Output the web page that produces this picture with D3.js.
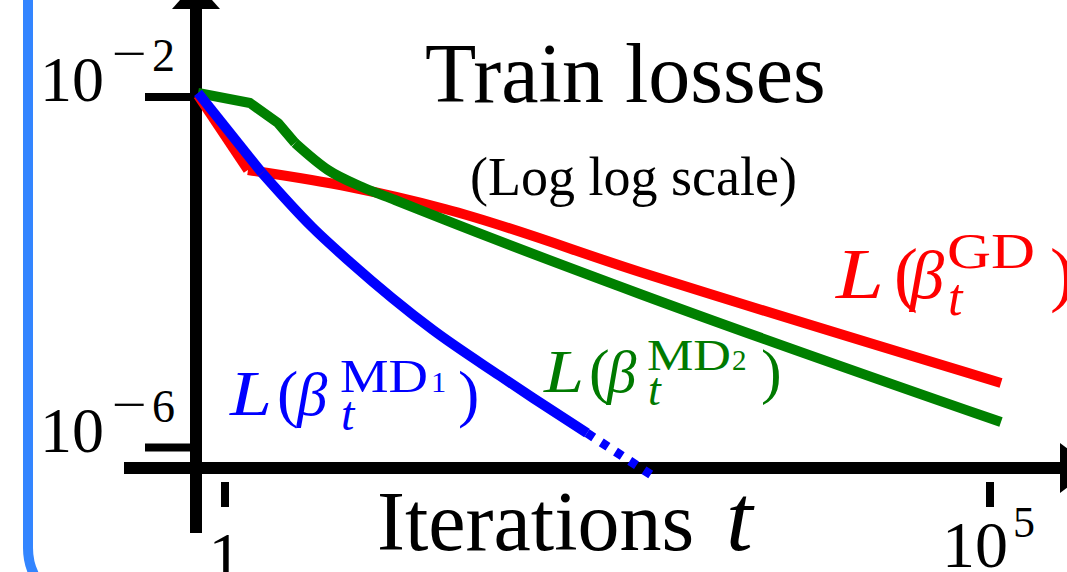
<!DOCTYPE html>
<html><head><meta charset="utf-8">
<script src="https://cdn.jsdelivr.net/npm/d3@7"></script>
<style>body{margin:0;background:#fff;overflow:hidden}svg{display:block}</style>
</head><body>
<svg id="c" width="1067" height="572"></svg>
<script>
// ---- data ----
const tGD    = [0.666, 1.413, 6.56, 27.4, 516, 118000];
const lossGD = [1.05e-2, 1.47e-3, 9.4e-4, 5.27e-4, 1.007e-4, 5.45e-6];

const tMD2    = [0.666, 1.457, 2.221, 2.868, 4.712, 7.86, 12.92, 27.41, 515.8, 118000];
const lossMD2 = [1.111e-2, 8.54e-3, 5.05e-3, 2.99e-3, 1.47e-3, 9.4e-4, 6.68e-4, 3.95e-4, 5.65e-5, 1.95e-6];

const tMD1    = [0.666, 1.745, 3.704, 6.561, 22.88, 62.72, 103.1, 232.3];
const lossMD1 = [1.111e-2, 1.36e-3, 3.28e-4, 1.31e-4, 2.19e-5, 6.55e-6, 3.67e-6, 1.46e-6];
const tMD1dot    = [232.3, 627.3];
const lossMD1dot = [1.46e-6, 4.73e-7];

const xTicks = [1, 1e5];
const xTickBase = ['1', '10'];
const xTickExp = ['', '5'];
const yTicks = [1e-2, 1e-6];
const yTickExp = ['\u22122', '\u22126'];

const title = 'Train losses';
const subtitle = '(Log log scale)';
const xTitle = 'Iterations';

// ---- drawing ----
const svg = d3.select('#c');
const serif = "'Liberation Serif', 'DejaVu Serif', serif";
const x = d3.scaleLog().domain([1, 1e5]).range([225, 990]);
const y = d3.scaleLog().domain([1e-6, 1e-2]).range([447.5, 97]);

// blue rounded frame
svg.append('rect').attr('x', 28).attr('y', -100).attr('width', 1300).attr('height', 708)
  .attr('rx', 60).attr('fill', 'none').attr('stroke', '#3385ff').attr('stroke-width', 10);

// axes
const ax = svg.append('g');
ax.append('line').attr('x1', 196).attr('x2', 196).attr('y1', 4).attr('y2', 533)
  .attr('stroke', '#000').attr('stroke-width', 12);
ax.append('path').attr('d', 'M172,9 L220,9 L196,-18 Z').attr('fill', '#000');
ax.append('line').attr('x1', 124).attr('x2', 1064).attr('y1', 468).attr('y2', 468)
  .attr('stroke', '#000').attr('stroke-width', 12);
ax.append('path').attr('d', 'M1060,443 L1060,493 L1094,468 Z').attr('fill', '#000');

// y ticks
yTicks.forEach((v, i) => {
  const yy = y(v);
  ax.append('line').attr('x1', 145).attr('x2', 196).attr('y1', yy).attr('y2', yy)
    .attr('stroke', '#000').attr('stroke-width', 8);
  ax.append('text').attr('x', 104).attr('y', yy + 4).attr('text-anchor', 'end')
    .attr('font-family', serif).attr('font-size', 64).text('10');
  const e = yTickExp[i];
  ax.append('text').attr('x', 112).attr('y', yy - 28).attr('font-family', serif)
    .attr('font-size', 46).attr('textLength', 35).attr('lengthAdjust', 'spacingAndGlyphs').text(e[0]);
  ax.append('text').attr('x', 152).attr('y', yy - 26).attr('font-family', serif)
    .attr('font-size', 46).text(e.slice(1));
});

// x ticks
xTicks.forEach((v, i) => {
  const xx = x(v);
  ax.append('line').attr('x1', xx).attr('x2', xx).attr('y1', 482).attr('y2', 507)
    .attr('stroke', '#000').attr('stroke-width', 8);
  if (xTickExp[i] === '') {
    ax.append('text').attr('x', xx).attr('y', 578).attr('text-anchor', 'middle')
      .attr('font-family', serif).attr('font-size', 66).text(xTickBase[i]);
  } else {
    ax.append('text').attr('x', xx - 48).attr('y', 567)
      .attr('font-family', serif).attr('font-size', 66).text(xTickBase[i]);
    ax.append('text').attr('x', xx + 23).attr('y', 537)
      .attr('font-family', serif).attr('font-size', 44).text(xTickExp[i]);
  }
});

// titles
svg.append('text').attr('x', 425).attr('y', 102).attr('font-family', serif)
  .attr('font-size', 84).text(title);
svg.append('text').attr('x', 470).attr('y', 195).attr('font-family', serif)
  .attr('font-size', 54).text(subtitle);
svg.append('text').attr('x', 377).attr('y', 550).attr('font-family', serif)
  .attr('font-size', 84).text(xTitle);
svg.append('text').attr('x', 726).attr('y', 550).attr('font-family', serif)
  .attr('font-style', 'italic').attr('font-size', 96).text('t');

// lines: straight segments for the first k points, smooth afterwards
const lineLin = d3.line().x(d => x(d[0])).y(d => y(d[1]));
const lineSm = d3.line().x(d => x(d[0])).y(d => y(d[1])).curve(d3.curveMonotoneX);
function drawLine(ts, ls, color, k, dash) {
  const pts = d3.zip(ts, ls);
  const parts = dash ? [[pts, lineLin]] :
    [[pts.slice(0, k + 1), lineLin], [pts.slice(k), lineSm]];
  parts.forEach(([d, gen]) => {
    if (d.length < 2) return;
    const p = svg.append('path').datum(d).attr('d', gen)
      .attr('fill', 'none').attr('stroke', color).attr('stroke-width', 10)
      .attr('stroke-linejoin', 'round');
    if (dash) p.attr('stroke-dasharray', dash).attr('stroke-width', 9);
  });
}
drawLine(tGD, lossGD, '#ff0000', 1);
drawLine(tMD2, lossMD2, '#008000', 3);
drawLine(tMD1, lossMD1, '#0000ff', 1);
drawLine(tMD1dot, lossMD1dot, '#0000ff', 0, '8,9');

// series labels
function mathLabel(o) {
  const g = svg.append('g').attr('fill', o.color).attr('font-family', serif);
  g.append('text').attr('x', o.x).attr('y', o.y).attr('font-style', 'italic').attr('font-size', o.fs)
    .attr('textLength', o.lw).attr('lengthAdjust', 'spacingAndGlyphs').text('L');
  g.append('text').attr('x', o.px).attr('y', o.y).attr('font-size', o.fs).text('(');
  g.append('text').attr('x', o.bx).attr('y', o.y).attr('font-style', 'italic').attr('font-size', o.fs * 0.95).text('\u03b2');
  g.append('text').attr('x', o.sx).attr('y', o.supY).attr('font-size', o.supFs)
    .attr('textLength', o.supW).attr('lengthAdjust', 'spacingAndGlyphs').text(o.sup);
  if (o.sub2) g.append('text').attr('x', o.s2x).attr('y', o.supY).attr('font-size', o.supFs * 0.66).text(o.sub2);
  g.append('text').attr('x', o.sx + 1).attr('y', o.subY).attr('font-style', 'italic').attr('font-size', o.subFs).text('t');
  g.append('text').attr('x', o.cx).attr('y', o.y).attr('font-size', o.fs).text(')');
}
mathLabel({color: '#ff0000', x: 836, y: 298, fs: 72, lw: 48, px: 894, bx: 910, sx: 947, sup: 'GD', supW: 88,
  supY: 268, supFs: 50, subY: 315, subFs: 52, cx: 1050});
mathLabel({color: '#0000ff', x: 230, y: 415, fs: 64, lw: 42, px: 277, bx: 297, sx: 340, sup: 'MD', supW: 88,
  sub2: '1', s2x: 431, supY: 392, supFs: 46, subY: 430, subFs: 48, cx: 458});
mathLabel({color: '#007a00', x: 544, y: 392, fs: 62, lw: 40, px: 589, bx: 607, sx: 647, sup: 'MD', supW: 84,
  sub2: '2', s2x: 732, supY: 370, supFs: 44, subY: 405, subFs: 46, cx: 761});
</script>
</body></html>
